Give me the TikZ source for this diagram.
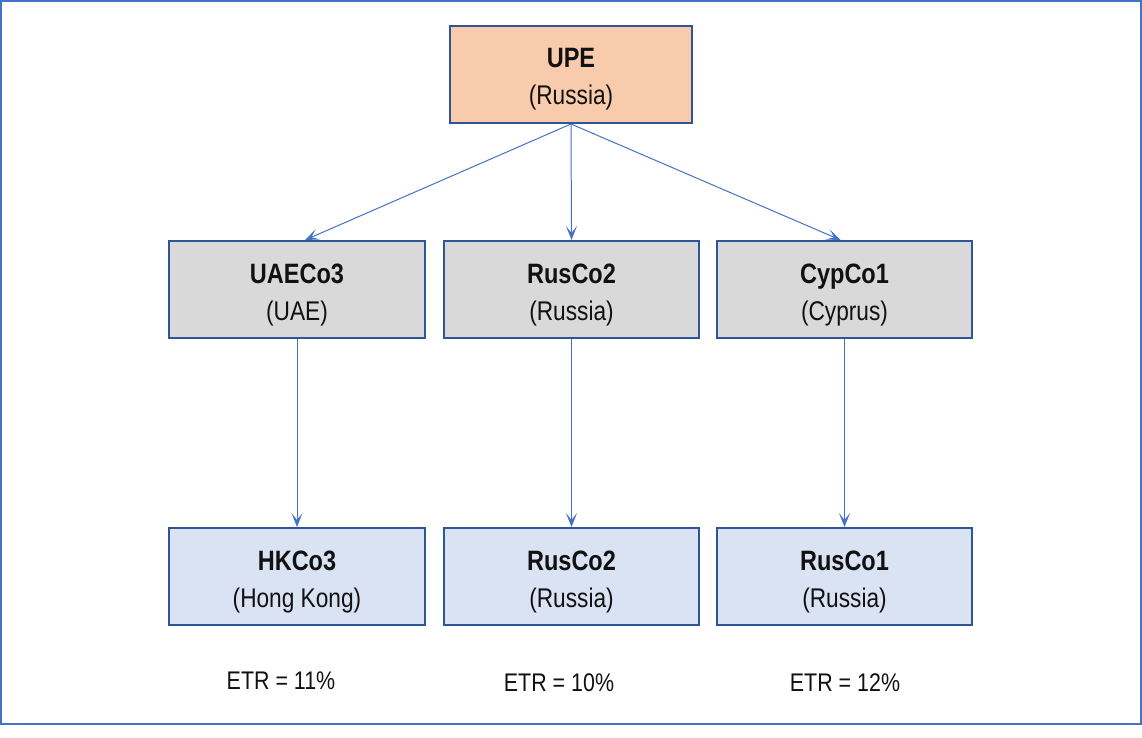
\documentclass[tikz,border=0pt]{standalone}
\usepackage{fontspec}
\setmainfont{Liberation Sans}[FakeStretch=0.84]
\usetikzlibrary{arrows.meta,calc}
\definecolor{frameblue}{HTML}{4472C4}
\definecolor{boxborder}{HTML}{2F5597}
\definecolor{upefill}{HTML}{F8CBAD}
\definecolor{midfill}{HTML}{D9D9D9}
\definecolor{botfill}{HTML}{DAE3F3}
\definecolor{txt}{HTML}{111111}
\newcommand{\ename}[1]{{\fontsize{28}{37}\selectfont\textbf{#1}}}
\tikzset{
  entity/.style={draw=boxborder, line width=2pt, minimum height=97pt, inner sep=0pt},
  etext/.style={align=center, text=txt, font=\fontsize{27}{37}\selectfont, inner sep=0pt},
  link/.style={draw=frameblue, line width=1pt, -{Stealth[length=14pt,width=11pt,inset=7pt]}},
  etr/.style={text=txt, font=\fontsize{25.5}{28}\selectfont, inner sep=0pt}
}
\begin{document}
\begin{tikzpicture}[x=1pt,y=-1pt]
\useasboundingbox (0,0) rectangle (1142,738);
\draw[frameblue, line width=2pt] (1,1) rectangle (1141,724);
\node[entity, fill=upefill, minimum width=242pt] (upe) at (571,74.5) {};
\node[entity, fill=midfill, minimum width=256pt] (uae) at (297,289.5) {};
\node[entity, fill=midfill, minimum width=255pt] (rus2m) at (571.5,289.5) {};
\node[entity, fill=midfill, minimum width=255pt] (cyp) at (844.5,289.5) {};
\node[entity, fill=botfill, minimum width=256pt] (hk) at (297,576.5) {};
\node[entity, fill=botfill, minimum width=255pt] (rus2b) at (571.5,576.5) {};
\node[entity, fill=botfill, minimum width=255pt] (rus1) at (844.5,576.5) {};
\node[etext] (upet) at ($(upe.center)+(0,5)$) {\ename{UPE}\\(Russia)};
\node[etext] (uaet) at ($(uae.center)+(0,5.5)$) {\ename{UAECo3}\\(UAE)};
\node[etext] (rus2mt) at ($(rus2m.center)+(0,5.5)$) {\ename{RusCo2}\\(Russia)};
\node[etext] (cypt) at ($(cyp.center)+(0,5.5)$) {\ename{CypCo1}\\(Cyprus)};
\node[etext] (hkt) at ($(hk.center)+(0,5.5)$) {\ename{HKCo3}\\(Hong Kong)};
\node[etext] (rus2bt) at ($(rus2b.center)+(0,5.5)$) {\ename{RusCo2}\\(Russia)};
\node[etext] (rus1t) at ($(rus1.center)+(0,5.5)$) {\ename{RusCo1}\\(Russia)};
\node[etr] (e1) at (281,681) {ETR = 11\%};
\node[etr] (e2) at (559,683) {ETR = 10\%};
\node[etr] (e3) at (845,683) {ETR = 12\%};
\draw[link] (upe.south) -- ($(uae.north)+(8,0)$);
\draw[link] (upe.south) -- (rus2m.north);
\draw[link] (upe.south) -- ($(cyp.north)+(-4,0)$);
\draw[link] (uae.south) -- (hk.north);
\draw[link] (rus2m.south) -- (rus2b.north);
\draw[link] (cyp.south) -- (rus1.north);
\end{tikzpicture}
\end{document}
